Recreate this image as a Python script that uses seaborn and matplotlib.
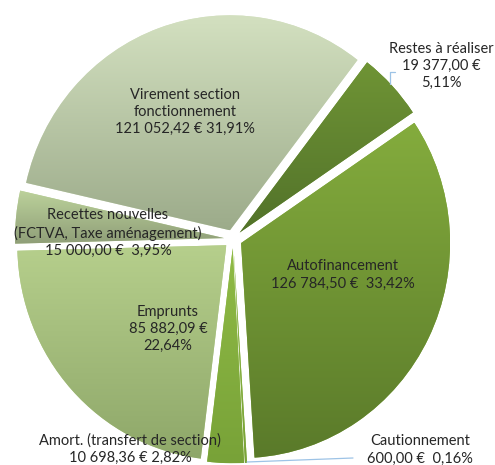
import numpy as np
import seaborn as sns
import matplotlib
matplotlib.use("Agg")
import matplotlib.pyplot as plt

sns.set_style("white")
plt.rcParams['font.family'] = ['Lato', 'DejaVu Sans']

# Slices, counter-clockwise from the start angle
names = ["Restes à réaliser", "Virement section\nfonctionnement", "Recettes nouvelles\n(FCTVA, Taxe aménagement)",
         "Emprunts", "Amort. (transfert de section)", "Cautionnement", "Autofinancement"]
values = [19377.00, 121052.42, 15000.00, 85882.09, 10698.36, 600.00, 126784.50]
# how value and percent sit under the name
layouts = ["{n}\n{v}\n{p}", "{n}\n{v} {p}", "{n}\n{v}  {p}", "{n}\n{v}\n{p}",
           "{n}\n{v} {p}", "{n}\n{v}  {p}", "{n}\n{v}  {p}"]
# gradient colours (bottom, top)
grads = [("#52722a", "#6f9435"), ("#9cab8a", "#d4e1c1"), ("#8f9e78", "#bcd29b"),
         ("#8ea769", "#b6cf8c"), ("#78a238", "#90bb46"), ("#7aa338", "#8cb744"),
         ("#5a7a2a", "#84ac3d")]
# label centres in pixels of the picture
label_px = [(441, 66), (185, 112), (108, 233), (168, 329), (130, 449), (420, 450), (343, 275)]

W, H = 495, 465
cx, cy = 233, 239      # pie centre, pixels
sx, sy = 209, 215      # radius in pixels, horizontal / vertical


def px(x, y):
    return (x - cx) / sx, (cy - y) / sy


def fr(v):
    s = f"{v:,.2f}"
    return s.replace(",", " ").replace(".", ",") + " €"


total = sum(values)
labels = [lay.format(n=n, v=fr(v), p=f"{v / total * 100:.2f}".replace(".", ",") + "%")
          for lay, n, v in zip(layouts, names, values)]

fig = plt.figure(figsize=(W / 100, H / 100), dpi=100)
ax = fig.add_axes([0, 0, 1, 1])

wedges, _ = ax.pie(values, startangle=34, counterclock=True, explode=[0.043] * len(values),
                   radius=1, colors=[g[1] for g in grads],
                   wedgeprops=dict(linewidth=0))

grad = np.linspace(0, 1, 256).reshape(-1, 1)
for w, (c0, c1) in zip(wedges, grads):
    v = w.get_path().vertices
    v = v[np.isfinite(v).all(axis=1)]
    cmap = sns.blend_palette([c0, c1], as_cmap=True)
    im = ax.imshow(grad, extent=(v[:, 0].min(), v[:, 0].max(), v[:, 1].min(), v[:, 1].max()),
                   origin="lower", cmap=cmap, aspect="auto", zorder=w.get_zorder() + 0.1)
    im.set_clip_path(w)

for lab, (x, y) in zip(labels, label_px):
    ax.text(*px(x, y), lab, ha="center", va="center", fontsize=10.5,
            color="#262626", linespacing=1.28, zorder=5)

# leader lines
lx, ly = zip(*[px(395, 72), px(390, 72), px(390, 84)])
ax.plot(lx, ly, color="#9dc3e6", lw=0.9, zorder=4)
lx, ly = zip(*[px(247, 462), px(353, 458)])
ax.plot(lx, ly, color="#9dc3e6", lw=0.9, zorder=4)

x0, y1 = px(0, 0)
x1, y0 = px(W, H)
ax.set_xlim(x0, x1)
ax.set_ylim(y0, y1)
ax.set_aspect("auto")
ax.axis("off")

fig.savefig("out.png", dpi=100)
